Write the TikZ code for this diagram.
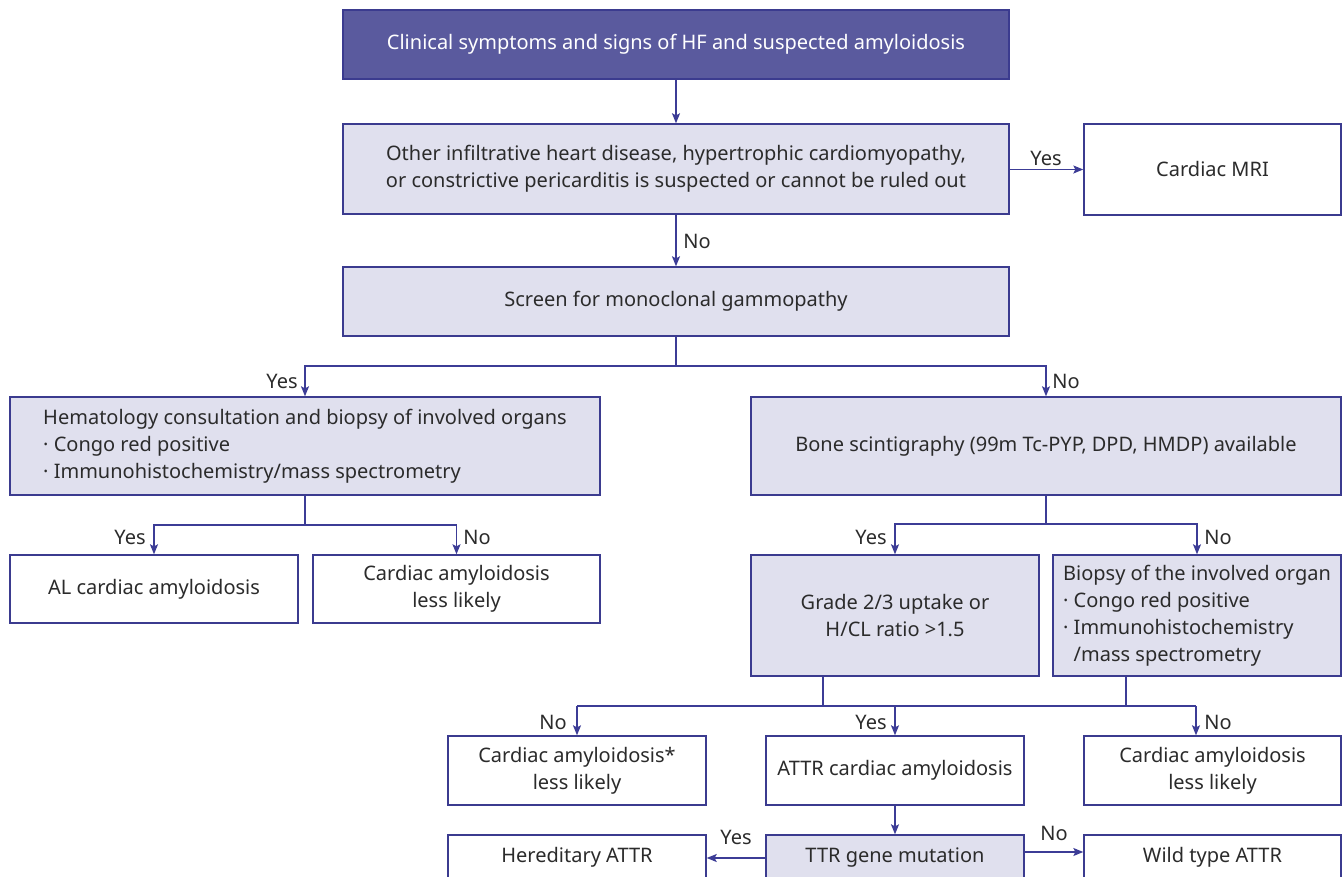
\documentclass[tikz,border=0pt]{standalone}
\usepackage{fontspec}
\setmainfont{Noto Sans}
\usetikzlibrary{arrows.meta}
\usetikzlibrary{positioning}

\definecolor{headfill}{HTML}{5A5A9E}
\definecolor{frame}{HTML}{3B3B8F}
\definecolor{shade}{HTML}{E0E0EE}
\definecolor{wire}{HTML}{3C3C96}
\definecolor{ink}{HTML}{2B2B2B}

\tikzset{
  box/.style={draw=frame, line width=1.4pt, fill=white, text=ink, align=center,
              inner sep=0pt, font=\fontsize{20}{27}\selectfont},
  greybox/.style={box, fill=shade},
  headbox/.style={box, fill=headfill, text=white},
  link/.style={draw=wire, line width=1.2pt},
  arr/.style={link, -{Stealth[length=10pt,width=8pt,inset=2pt]}},
  lab/.style={text=ink, inner sep=0pt, font=\fontsize{20}{22}\selectfont}
}

\begin{document}
\begin{tikzpicture}[x=1pt,y=-1pt]

            \clip (0,0) rectangle (1344,877);

            \path   (676,44.5) node (top) [headbox,minimum width=666pt,minimum height=69pt] {Clinical symptoms and signs of HF and suspected amyloidosis}
                    (676,169) node (infil) [greybox,minimum width=666pt,minimum height=90pt] {Other infiltrative heart disease, hypertrophic cardiomyopathy,\\or constrictive pericarditis is suspected or cannot be ruled out}
                    (1212.5,169.5) node (mri) [box,minimum width=257pt,minimum height=91pt] {Cardiac MRI}
                    (676,301.5) node (screen) [greybox,minimum width=666pt,minimum height=69pt] {Screen for monoclonal gammopathy}
                    (305,446) node (hema) [greybox,minimum width=590pt,minimum height=98pt,align=left] {Hematology consultation and biopsy of involved organs\\· Congo red positive\\· Immunohistochemistry/mass spectrometry}
                    (1046,446) node (bone) [greybox,minimum width=590pt,minimum height=98pt] {Bone scintigraphy (99m Tc-PYP, DPD, HMDP) available}
                    (154,589) node (al) [box,minimum width=288pt,minimum height=68pt] {AL cardiac amyloidosis}
                    (456.5,589) node (less1) [box,minimum width=287pt,minimum height=68pt] {Cardiac amyloidosis\\less likely}
                    (895,615.5) node (grade) [greybox,minimum width=288pt,minimum height=121pt] {Grade 2/3 uptake or\\H/CL ratio >1.5}
                    (1197,615.5) node (biopsy) [greybox,minimum width=288pt,minimum height=121pt,align=left] {Biopsy of the involved organ\\· Congo red positive\\· Immunohistochemistry\\\hphantom{· }/mass spectrometry}
                    (577,770.5) node (less2) [box,minimum width=258pt,minimum height=69pt] {Cardiac amyloidosis*\\less likely}
                    (895,770.5) node (attr) [box,minimum width=258pt,minimum height=69pt] {ATTR cardiac amyloidosis}
                    (1212.5,770.5) node (less3) [box,minimum width=257pt,minimum height=69pt] {Cardiac amyloidosis\\less likely}
                    (577,857.5) node (hered) [box,minimum width=258pt,minimum height=45pt] {Hereditary ATTR}
                    (895,857.5) node (ttr) [greybox,minimum width=258pt,minimum height=45pt] {TTR gene mutation}
                    (1212.5,857.5) node (wild) [box,minimum width=257pt,minimum height=45pt] {Wild type ATTR};

            % junctions
            \coordinate (j1) at (676,366);
            \coordinate (j2) at (305,525);
            \coordinate (j3) at (1046,524);
            \coordinate (gj) at (823,706);
            \coordinate (bj) at (1126,706);
            \coordinate (n3) at (577,706);
            \coordinate (y3) at (895,706);
            \coordinate (m3) at (1196,706);

            \draw[arr] (top) -- (infil);
            \draw[arr] (infil.east |- mri) -- (mri);
            \draw[arr] (infil) -- (screen);

            \draw[link] (screen) -- (j1);
            \draw[arr] (j1) -| (hema);
            \draw[arr] (j1) -| (bone);

            \draw[link] (hema) -- (j2);
            \draw[arr] (j2) -| (al);
            \draw[arr] (j2) -| (less1);

            \draw[link] (bone) -- (j3);
            \draw[arr] (j3) -| (grade);
            \draw[arr] (j3) -| (biopsy);

            \draw[link] (gj |- grade.south) -- (gj);
            \draw[link] (bj |- biopsy.south) -- (bj);
            \draw[link] (n3) -- (m3);
            \draw[arr] (n3) -- (less2);
            \draw[arr] (y3) -- (attr);
            \draw[arr] (m3) -- (m3 |- less3.north);

            \draw[arr] (attr) -- (ttr);
            \draw[arr] (ttr.west |- 0,858) -- (hered.east |- 0,858);
            \draw[arr] (ttr.east |- 0,852) -- (wild.west |- 0,852);

            % labels
            \path   (1046,158) node (l1) [lab] {Yes}
                    (697,241) node (l2) [lab] {No}
                    (282,381) node (l3) [lab] {Yes}
                    (1066,381) node (l4) [lab] {No}
                    (130,537) node (l5) [lab] {Yes}
                    (477,537) node (l6) [lab] {No}
                    (871,537) node (l7) [lab] {Yes}
                    (1218,537) node (l8) [lab] {No}
                    (553,722) node (l9) [lab] {No}
                    (871,722) node (l10) [lab] {Yes}
                    (1218,722) node (l11) [lab] {No}
                    (736,837) node (l12) [lab] {Yes}
                    (1054,833) node (l13) [lab] {No};

\end{tikzpicture}
\end{document}
